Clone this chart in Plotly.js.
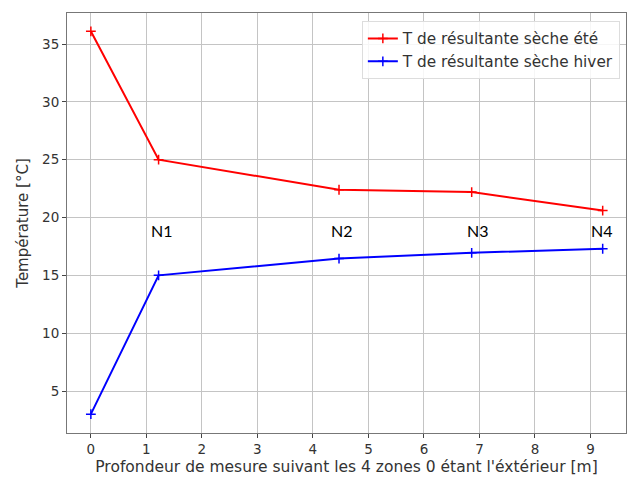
<!DOCTYPE html>
<html><head><meta charset="utf-8">
<script src="https://cdn.plot.ly/plotly-3.0.1.min.js"></script>
<style>body{margin:0;background:#fff}#c{width:628px;height:481px}</style>
</head><body><div id="c"></div>
<script>
const depth = [0, 1.22, 4.47, 6.86, 9.22];
const tEte = [36.1, 25.0, 22.4, 22.2, 20.6];
const tHiver = [3.0, 15.0, 16.45, 16.95, 17.3];
const zoneLabels = ["N1", "N2", "N3", "N4"];
const zoneX = [1.28, 4.52, 6.97, 9.2];
const zoneY = [18.9, 18.9, 18.9, 18.9];

const fam = "DejaVu Sans, sans-serif";
const font = {family: fam, size: 14, color: "#333"};
const traces = [
  {x: depth, y: tEte, mode: "lines+markers", name: "T de résultante sèche été",
   line: {color: "#ff0000", width: 2}, marker: {symbol: "cross-thin-open", size: 7, color: "#ff0000", line: {width: 1.5, color: "#ff0000"}}},
  {x: depth, y: tHiver, mode: "lines+markers", name: "T de résultante sèche hiver",
   line: {color: "#0000ff", width: 2}, marker: {symbol: "cross-thin-open", size: 7, color: "#0000ff", line: {width: 1.5, color: "#0000ff"}}}
];
const annotations = zoneLabels.map((t, i) => ({x: zoneX[i], y: zoneY[i], text: t, showarrow: false,
  font: {family: "Lato, Open Sans, sans-serif", size: 16, color: "#000"}}));
const layout = {
  width: 628, height: 481, margin: {l: 67, r: 2, t: 13, b: 48},
  paper_bgcolor: "#fff", plot_bgcolor: "#fff", font: font, showlegend: true,
  xaxis: {range: [-0.43, 9.64], tickvals: [0,1,2,3,4,5,6,7,8,9], showgrid: true, gridcolor: "#c4c4c4", gridwidth: 1,
    zeroline: false, showline: true, mirror: true, linecolor: "#777", linewidth: 1, ticks: "outside", ticklen: 4, tickcolor: "#444",
    tickfont: {family: fam, size: 13.5, color: "#333"},
    title: {text: "Profondeur de mesure suivant les 4 zones 0 étant l'éxtérieur [m]", font: {family: fam, size: 15.5, color: "#333"}, standoff: 4}},
  yaxis: {range: [1.37, 37.68], tickvals: [5,10,15,20,25,30,35], showgrid: true, gridcolor: "#c4c4c4", gridwidth: 1,
    zeroline: false, showline: true, mirror: true, linecolor: "#777", linewidth: 1, ticks: "outside", ticklen: 4, tickcolor: "#444",
    tickfont: {family: fam, size: 13.5, color: "#333"},
    title: {text: "Température [°C]", font: {family: fam, size: 15, color: "#333"}, standoff: 9}},
  legend: {x: 0.989, y: 0.981, xanchor: "right", yanchor: "top", bgcolor: "rgba(255,255,255,0.85)", bordercolor: "#ddd", borderwidth: 1,
    font: {family: fam, size: 15.3, color: "#333"}, tracegroupgap: 0},
  annotations: annotations
};
Plotly.newPlot("c", traces, layout, {displayModeBar: false, staticPlot: true});
</script></body></html>
